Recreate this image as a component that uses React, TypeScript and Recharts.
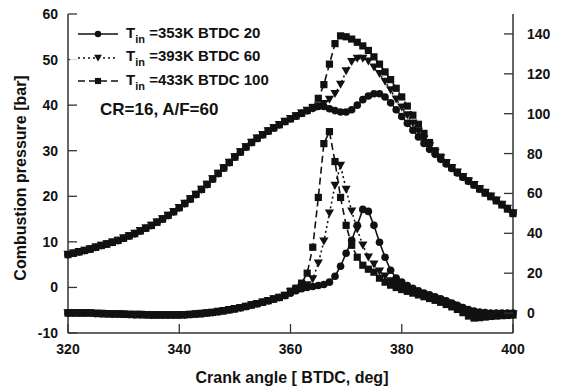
import React from 'react';
import { ComposedChart, Line, XAxis, YAxis } from 'recharts';

// crank angle, deg (BTDC convention as in the source plot)
const angle = [
  320, 321, 322, 323, 324, 325, 326, 327, 328, 329,
  330, 331, 332, 333, 334, 335, 336, 337, 338, 339,
  340, 341, 342, 343, 344, 345, 346, 347, 348, 349,
  350, 351, 352, 353, 354, 355, 356, 357, 358, 359,
  360, 361, 362, 363, 364, 365, 366, 367, 368, 369,
  370, 371, 372, 373, 374, 375, 376, 377, 378, 379,
  380, 381, 382, 383, 384, 385, 386, 387, 388, 389,
  390, 391, 392, 393, 394, 395, 396, 397, 398, 399, 400,
];

// compression part, same for all three cases (320..363)
const pressureShared = [
  7.2, 7.5, 7.8, 8.1, 8.4, 8.8, 9.2, 9.5, 9.9, 10.3,
  10.8, 11.3, 11.8, 12.4, 13.0, 13.6, 14.3, 15.0, 15.8, 16.6,
  17.5, 18.4, 19.4, 20.4, 21.5, 22.6, 23.8, 25.0, 26.2, 27.4,
  28.6, 29.7, 30.8, 31.8, 32.7, 33.5, 34.3, 35.0, 35.7, 36.4,
  37.0, 37.6, 38.2, 38.8,
];
// 364..400
const pressure353 = [
  39.3, 39.7, 39.7, 39.2, 38.8, 38.5,
  38.5, 39.0, 40.0, 41.2, 42.0, 42.5, 42.5, 41.8, 40.5, 39.0,
  37.5, 36.0, 34.5, 33.0, 31.6, 30.3, 29.2, 28.1, 27.1, 26.1,
  25.1, 24.2, 23.3, 22.5, 21.6, 20.8, 20.0, 19.1, 18.2, 17.3, 16.3,
];
const pressure393 = [
  39.3, 39.8, 40.3, 41.2, 42.5, 44.5,
  47.5, 49.5, 50.2, 50.2, 49.6, 48.3, 46.9, 45.2, 43.3, 41.3,
  39.5, 37.8, 36.0, 34.2, 32.5, 31.0, 29.6, 28.4, 27.3, 26.2,
  25.2, 24.2, 23.3, 22.5, 21.6, 20.8, 20.0, 19.1, 18.2, 17.3, 16.3,
];
const pressure433 = [
  39.5, 41.5, 44.5, 49.0, 53.5, 55.2,
  55.0, 54.5, 53.8, 53.0, 52.0, 50.6, 49.0, 47.3, 45.6, 43.7,
  41.8, 39.8, 37.8, 35.8, 33.8, 31.8, 30.0, 28.6, 27.4, 26.3,
  25.3, 24.3, 23.4, 22.5, 21.6, 20.7, 19.9, 19.0, 18.1, 17.2, 16.2,
];

// heat release rate (right axis), shared part 320..359
const heatShared = [
  0, 0, 0, 0, 0, -0.2, -0.3, -0.4, -0.5, -0.5,
  -0.6, -0.7, -0.8, -0.8, -0.9, -1, -1, -1, -1, -1,
  -1, -0.9, -0.7, -0.5, -0.3, 0, 0.3, 0.7, 1.1, 1.6,
  2.1, 2.7, 3.3, 4.0, 4.7, 5.4, 6.2, 7.0, 7.8, 8.8,
];
// 360..400
const heat353 = [
  10, 11.2, 12.2, 12.8, 13.3, 13.8, 14.3, 15.5, 18.5, 23.5,
  30, 36.5, 44, 52, 51, 44, 35.5, 28, 21.5, 17.5,
  15.5, 13.8, 12.4, 11.2, 10.1, 9.1, 8.1, 7.1, 6.1, 5.0,
  3.9, 2.8, 1.8, 1.0, 0.5, 0.2, 0, 0, 0, 0, 0,
];
const heat393 = [
  10.5, 11.8, 12.8, 14, 17, 25, 36, 50, 64, 74,
  62, 51, 42, 34, 28, 24.5, 21, 18.5, 16, 14.2,
  12.8, 11.6, 10.6, 9.7, 8.8, 7.9, 7.0, 6.0, 5.0, 4.0,
  2.8, 1.5, 0.3, -0.8, -1.2, -1.2, -1.0, -0.8, -0.7, -0.6, -0.5,
];
const heat433 = [
  11, 12.5, 15, 20, 33, 58, 85, 91, 76, 58,
  44, 34, 28, 24, 22, 20.5, 17.5, 15.5, 14, 12.8,
  11.8, 10.9, 10.0, 9.1, 8.2, 7.3, 6.4, 5.4, 4.3, 3.1,
  1.8, 0.2, -1.5, -2.5, -2.3, -2.0, -1.7, -1.5, -1.3, -1.2, -1.0,
];

const xTicks = [320, 340, 360, 380, 400];
const pTicks = [-10, 0, 10, 20, 30, 40, 50, 60];
const hTicks = [0, 20, 40, 60, 80, 100, 120, 140];

const cases = [
  { key: '353', label: '=353K BTDC 20', marker: 'circle', dash: undefined },
  { key: '393', label: '=393K BTDC 60', marker: 'triangle', dash: '2 3' },
  { key: '433', label: '=433K BTDC 100', marker: 'square', dash: '7 4' },
];

const p353 = [...pressureShared, ...pressure353];
const p393 = [...pressureShared, ...pressure393];
const p433 = [...pressureShared, ...pressure433];
const h353 = [...heatShared, ...heat353];
const h393 = [...heatShared, ...heat393];
const h433 = [...heatShared, ...heat433];

const data = angle.map((a, i) => ({
  angle: a,
  p353: p353[i], p393: p393[i], p433: p433[i],
  h353: h353[i], h393: h393[i], h433: h433[i],
}));

const FONT = "'Liberation Sans', Arial, sans-serif";
const INK = '#111';

function Marker({ kind, cx, cy, s = 1 }: { kind: string; cx: number; cy: number; s?: number }) {
  if (kind === 'circle') return <circle cx={cx} cy={cy} r={3.8 * s} fill={INK} />;
  if (kind === 'triangle')
    return (
      <polygon
        points={`${cx - 4.6 * s},${cy - 3.8 * s} ${cx + 4.6 * s},${cy - 3.8 * s} ${cx},${cy + 4.2 * s}`}
        fill={INK}
      />
    );
  return <rect x={cx - 3.6 * s} y={cy - 3.6 * s} width={7.2 * s} height={7.2 * s} fill={INK} />;
}

const dotFor = (kind: string) => (props: any) => {
  const { cx, cy, index } = props;
  if (cx == null || cy == null) return <g key={`d-${kind}-${index}`} />;
  return <Marker key={`d-${kind}-${index}`} kind={kind} cx={cx} cy={cy} />;
};

const tickText = { fontFamily: FONT, fontSize: 14, fontWeight: 700, fill: INK };

const LeftTick = (props: any) => {
  const { x, y, payload } = props;
  return (
    <g>
      <line x1={x + 10} x2={x + 19} y1={y} y2={y} stroke="#333" strokeWidth={1.3} />
      <text x={x} y={y} dy={5} textAnchor="end" {...tickText}>{payload.value}</text>
    </g>
  );
};

const RightTick = (props: any) => {
  const { x, y, payload } = props;
  return (
    <g>
      <line x1={x - 14} x2={x - 23} y1={y} y2={y} stroke="#333" strokeWidth={1.3} />
      <text x={x} y={y} dy={5} textAnchor="start" {...tickText}>{payload.value}</text>
    </g>
  );
};

const BottomTick = (props: any) => {
  const { x, y, payload } = props;
  return (
    <g>
      <line x1={x} x2={x} y1={y - 8} y2={y - 17} stroke="#333" strokeWidth={1.3} />
      <text x={x} y={y} dy={13} textAnchor="middle" {...tickText}>{payload.value}</text>
    </g>
  );
};

const App: React.FC = () => {
  return (
    <div style={{ position: 'absolute', left: 0, top: 0, width: 565, height: 390, background: '#fff' }}>
      <ComposedChart width={565} height={390} data={data} margin={{ top: 14, right: 12, bottom: 22, left: 8 }}>
        <XAxis
          dataKey="angle"
          type="number"
          domain={[320, 400]}
          ticks={xTicks}
          tickSize={0}
          tickMargin={8}
          tick={<BottomTick />}
          axisLine={{ stroke: '#333', strokeWidth: 1.5 }}
          height={35}
          label={{
            content: () => (
              <text x={292} y={383} textAnchor="middle" fontFamily={FONT} fontSize={16} fontWeight={700} fill={INK}>
                Crank angle [ BTDC, deg]
              </text>
            ),
          }}
        />
        <XAxis xAxisId="top" orientation="top" dataKey="angle" type="number" domain={[320, 400]} tick={false} tickLine={false} height={0} axisLine={{ stroke: '#333', strokeWidth: 1.5 }} />
        <YAxis
          yAxisId="p"
          domain={[-10, 60]}
          ticks={pTicks}
          width={60}
          tickSize={0}
          tickMargin={10}
          tick={<LeftTick />}
          axisLine={{ stroke: '#333', strokeWidth: 1.5 }}
          label={{
            content: () => (
              <text x={20} y={178} transform="rotate(-90 20 178)" textAnchor="middle" dominantBaseline="central" fontFamily={FONT} fontSize={16} fontWeight={700} fill={INK}>
                Combustion pressure [bar]
              </text>
            ),
          }}
        />
        <YAxis
          yAxisId="h"
          orientation="right"
          domain={[-10, 150]}
          ticks={hTicks}
          width={40}
          tickSize={0}
          tickMargin={14}
          tick={<RightTick />}
          axisLine={{ stroke: '#333', strokeWidth: 1.5 }}
        />
        {cases.map((c) => (
          <Line
            key={`p${c.key}`}
            yAxisId="p"
            dataKey={`p${c.key}`}
            stroke={INK}
            strokeWidth={1.6}
            strokeDasharray={c.dash}
            dot={dotFor(c.marker)}
            activeDot={false}
            isAnimationActive={false}
            type="linear"
          />
        ))}
        {cases.map((c) => (
          <Line
            key={`h${c.key}`}
            yAxisId="h"
            dataKey={`h${c.key}`}
            stroke={INK}
            strokeWidth={1.6}
            strokeDasharray={c.dash}
            dot={dotFor(c.marker)}
            activeDot={false}
            isAnimationActive={false}
            type="linear"
          />
        ))}
      </ComposedChart>

      <div
        style={{
          position: 'absolute', left: 70, top: 16, width: 212, height: 76,
          background: 'rgba(255,255,255,0.82)', fontFamily: FONT, fontWeight: 700, fontSize: 15, color: INK,
        }}
      >
        {cases.map((c, i) => (
          <div key={c.key} style={{ position: 'absolute', left: 0, top: 8 + i * 23.5, height: 20, display: 'flex', alignItems: 'center', whiteSpace: 'nowrap' }}>
            <svg width={44} height={12} style={{ marginLeft: 7, marginRight: 5 }}>
              <line x1={1} x2={41} y1={6} y2={6} stroke={INK} strokeWidth={1.4} strokeDasharray={c.dash} />
              <Marker kind={c.marker} cx={21} cy={6} s={0.85} />
            </svg>
            <span>T<sub style={{ fontSize: 11, verticalAlign: -5 }}>in</sub> {c.label}</span>
          </div>
        ))}
      </div>
      <div style={{ position: 'absolute', left: 100, top: 100, fontFamily: FONT, fontWeight: 700, fontSize: 17, color: INK, whiteSpace: 'nowrap' }}>
        CR=16, A/F=60
      </div>
    </div>
  );
};

export default App;
